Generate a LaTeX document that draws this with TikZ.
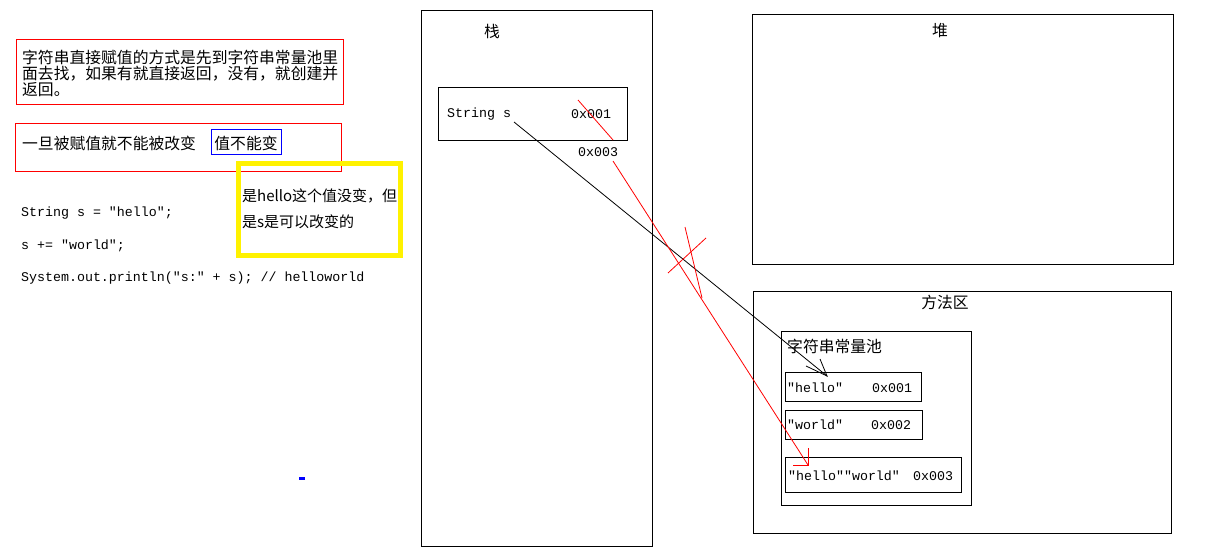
\documentclass[tikz,border=0pt]{standalone}
\usepackage{fontspec}
\newfontfamily\cjk{Noto Sans CJK SC}
\newfontfamily\mono{Liberation Mono}
\begin{document}
\begin{tikzpicture}[x=1pt,y=-1pt,
  box/.style={draw=black,line width=1pt,inner sep=0pt,outer sep=0pt,anchor=north west},
  redbox/.style={box,draw=red},
  bluebox/.style={box,draw=blue},
  cn/.style={font=\cjk\fontsize{15.8}{16}\selectfont,inner sep=0pt,anchor=west},
  cnc/.style={cn,anchor=center},
  yel/.style={font=\cjk\fontsize{15}{16}\selectfont,inner sep=0pt,anchor=west},
  code/.style={font=\mono\fontsize{13.3}{16}\selectfont,inner sep=0pt,anchor=west},
  thin/.style={line width=0.8pt},
]
\useasboundingbox (0,0) rectangle (1213,556);
\fill[white] (0,0) rectangle (1213,556);

% left notes
\node[redbox,minimum width=327pt,minimum height=65pt] (note1) at (16,40) {};
\node[cn,align=left] (note1t) at (22,73) {字符串直接赋值的方式是先到字符串常量池里\\面去找，如果有就直接返回，没有，就创建并\\返回。};
\node[redbox,minimum width=326pt,minimum height=48pt] (note2) at (15,124) {};
\node[cn] (note2t) at (22,143) {一旦被赋值就不能被改变};
\node[bluebox,minimum width=70pt,minimum height=25pt] (blue) at (211,130) {};
\node[cnc] (bluet) at (246,143) {值不能变};
\draw[yellow,line width=5pt] (238,163.5) rectangle (400.5,256);
\node[yel] (yt1) at (242,196) {是hello这个值没变，但};
\node[yel] (yt2) at (242,222) {是s是可以改变的};

\node[code] (c1) at (21,213) {String s = "hello";};
\node[code] (c2) at (21,246) {s += "world";};
\node[code] (c3) at (21,278) {System.out.println("s:" + s); // helloworld};
\fill[blue] (299,477) rectangle (305,479.5);

% stack
\node[box,minimum width=231pt,minimum height=535pt] (stack) at (421,11) {};
\node[cnc] (stackt) at (492,31) {栈};
\node[box,minimum width=189pt,minimum height=53pt] (svar) at (438,88) {};
\node[code] (svart) at (447,114) {String s};
\node[code] (sa1) at (571,114) {0x001};
\node[code] (sa3) at (578,152) {0x003};

% heap
\node[box,minimum width=421pt,minimum height=249pt] (heap) at (752,15) {};
\node[cnc] (heapt) at (940,31) {堆};

% method area
\node[box,minimum width=418pt,minimum height=242pt] (method) at (753,291) {};
\node[cnc] (methodt) at (945,302) {方法区};
\node[box,minimum width=190pt,minimum height=174pt] (pool) at (781,331) {};
\node[cn] (poolt) at (787,346) {字符串常量池};
\node[box,minimum width=136pt,minimum height=29pt] (hello) at (785,372) {};
\node[code] (hellot) at (787,388) {"hello"};
\node[code] (helloa) at (872,388) {0x001};
\node[box,minimum width=137pt,minimum height=29pt] (world) at (785,410) {};
\node[code] (worldt) at (787,425) {"world"};
\node[code] (worlda) at (871,425) {0x002};
\node[box,minimum width=176pt,minimum height=35pt] (hw) at (785,457) {};
\node[code] (hwt) at (788,476) {"hello""world"};
\node[code] (hwa) at (913,476) {0x003};

% connectors
\coordinate (bs) at (514,122);
\coordinate (bt) at (827,376);
\coordinate (bh1) at (820,359);
\coordinate (bh2) at (806,366);
\draw[thin] (bs) -- (bt);
\draw[thin] (bh1) -- (bt) -- (bh2);

\coordinate (rs1) at (578,100);
\coordinate (rs2) at (613,140);
\draw[red,thin] (rs1) -- (rs2);
\coordinate (rl1) at (613,161);
\coordinate (rl2) at (808,465);
\coordinate (rh1) at (808,448);
\coordinate (rh2) at (793,465);
\draw[red,thin] (rl1) -- (rl2);
\draw[red,thin] (rh1) -- (rl2) -- (rh2);

\coordinate (x1a) at (668,273);
\coordinate (x1b) at (706,238);
\coordinate (x2a) at (685,227);
\coordinate (x2b) at (702,298);
\draw[red,thin] (x1a) -- (x1b);
\draw[red,thin] (x2a) -- (x2b);
\end{tikzpicture}
\end{document}
